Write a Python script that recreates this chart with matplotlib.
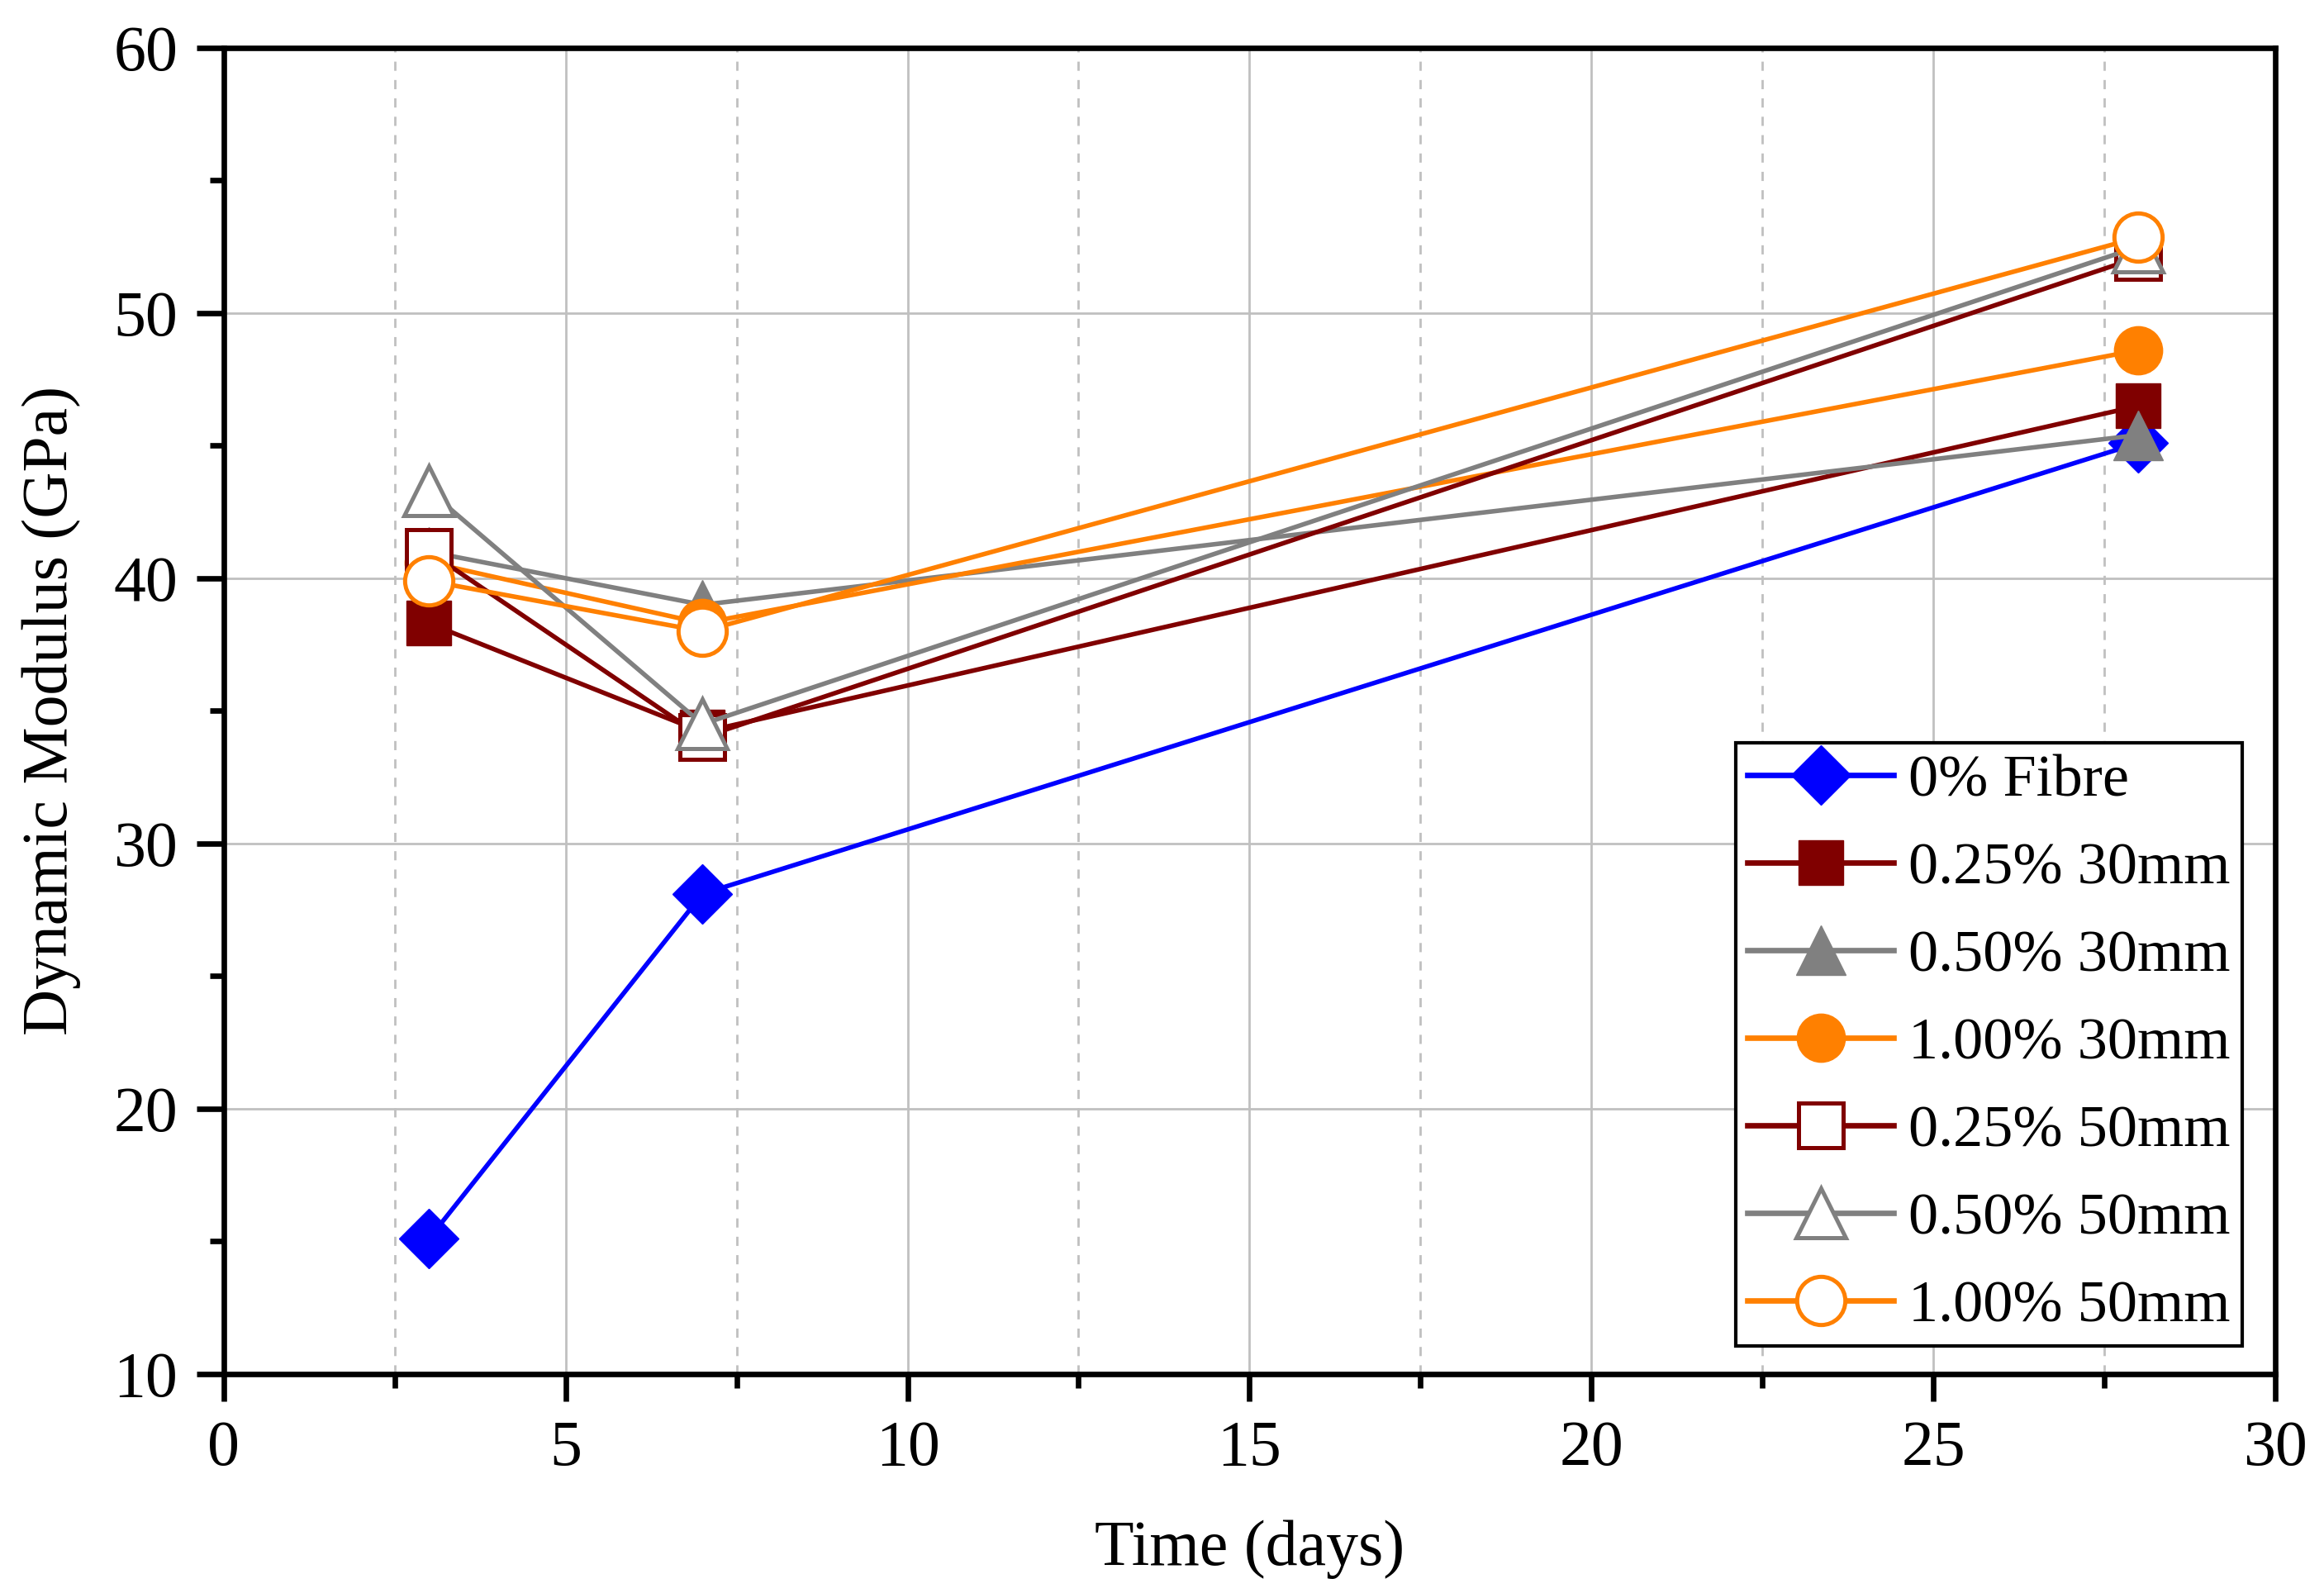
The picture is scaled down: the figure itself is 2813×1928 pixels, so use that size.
import matplotlib
matplotlib.use("Agg")
import matplotlib.pyplot as plt
from matplotlib.ticker import MultipleLocator

days = [3, 7, 28]
labels = ["0% Fibre", "0.25% 30mm", "0.50% 30mm", "1.00% 30mm",
          "0.25% 50mm", "0.50% 50mm", "1.00% 50mm"]
fibre_0 = [15.1, 28.1, 45.1]
f025_30 = [38.3, 34.2, 46.5]
f050_30 = [41.0, 39.0, 45.4]
f100_30 = [40.6, 38.3, 48.6]
f025_50 = [41.0, 34.0, 52.1]
f050_50 = [43.3, 34.5, 52.5]
f100_50 = [39.9, 38.0, 52.85]
series = [fibre_0, f025_30, f050_30, f100_30, f025_50, f050_50, f100_50]

colors = ["#0000FF", "#800000", "#808080", "#FF8000", "#800000", "#808080", "#FF8000"]
markers = ["D", "s", "^", "o", "s", "^", "o"]
filled = [True, True, True, True, False, False, False]
msizes = [18.5, 19.5, 21.5, 21, 19.5, 21.5, 21]

plt.rcParams['font.family'] = ['Liberation Serif', 'DejaVu Serif']

fig = plt.figure(figsize=(14.065, 9.64), dpi=200)
ax = fig.add_axes([0.0963, 0.1375, 0.8827, 0.8325])

for vals, lab, c, m, f, ms in zip(series, labels, colors, markers, filled, msizes):
    ax.plot(days, vals, color=c, lw=2.0, marker=m, markersize=ms,
            markerfacecolor=c if f else "white", markeredgecolor=c,
            markeredgewidth=1.8 if not f else 0.5, label=lab)

ax.set_xlim(0, 30)
ax.set_ylim(10, 60)
ax.xaxis.set_major_locator(MultipleLocator(5))
ax.xaxis.set_minor_locator(MultipleLocator(2.5))
ax.yaxis.set_major_locator(MultipleLocator(10))
ax.yaxis.set_minor_locator(MultipleLocator(5))

ax.grid(True, which="major", axis="both", color="#c0c0c0", lw=1.0, ls="-")
ax.grid(True, which="minor", axis="x", color="#c0c0c0", lw=1.0, ls=(0, (4, 4)))
ax.set_axisbelow(True)

for sp in ax.spines.values():
    sp.set_linewidth(2.4)
ax.tick_params(which="major", direction="out", length=12, width=2.4, labelsize=28, pad=8)
ax.tick_params(which="minor", direction="out", length=6, width=2.4)

ax.set_xlabel("Time (days)", fontsize=28, labelpad=18)
ax.set_ylabel("Dynamic Modulus (GPa)", fontsize=28, labelpad=14)

leg = ax.legend(loc="lower right", bbox_to_anchor=(0.984, 0.021), fontsize=26,
                frameon=True, fancybox=False, edgecolor="black", framealpha=1,
                handlelength=2.45, handletextpad=0.25, borderpad=0.2, labelspacing=0.56,
                borderaxespad=0)
leg.get_frame().set_linewidth(1.5)
for line in leg.get_lines():
    line.set_linewidth(2.4)

fig.savefig("out.png", dpi=200)
